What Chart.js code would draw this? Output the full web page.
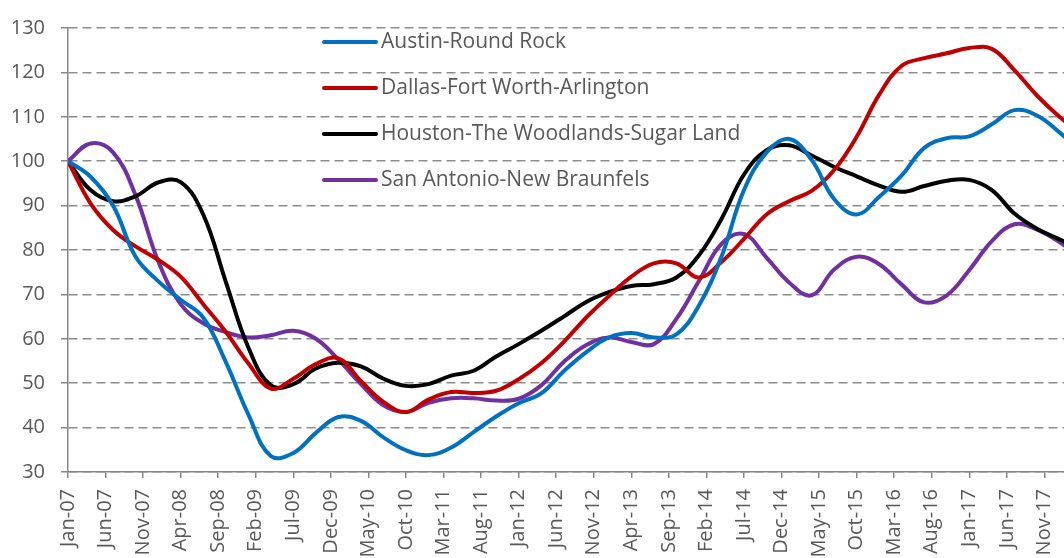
<!DOCTYPE html>
<html>
<head>
<meta charset="utf-8">
<script src="https://cdn.jsdelivr.net/npm/chart.js@4.4.1/dist/chart.umd.min.js"></script>
<style>
  html, body { margin: 0; padding: 0; background: #ffffff; overflow: hidden; width: 1064px; height: 558px; }
  #wrap { position: absolute; left: 0; top: 0; width: 1200px; height: 558px; }
</style>
</head>
<body>
<div id="wrap"><canvas id="c" width="1200" height="558"></canvas></div>
<script>
// Month index from Jan-07 (quarterly samples)
const months = [0,3,6,9,12,15,18,21,24,27,30,33,36,39,42,45,48,51,54,57,60,63,66,69,72,75,78,81,84,87,90,93,96,99,102,105,108,111,114,117,120,123,126,129,132,135];

const seriesNames = ['Austin-Round Rock', 'Dallas-Fort Worth-Arlington', 'Houston-The Woodlands-Sugar Land', 'San Antonio-New Braunfels'];

const austin = [100, 96.5, 90, 78.5, 73, 68.8, 64.8, 54.8, 43, 33.6, 34.3, 38.8, 42.4, 41.5, 37.8, 34.9, 33.8, 35.5, 39, 42.5, 45.5, 47.7, 52.7, 57, 60.3, 61.3, 60.3, 61, 67.5, 78.5, 93.5, 102, 105, 100.3, 91.5, 88, 92, 96.8, 103, 105.2, 105.6, 108.3, 111.5, 110.3, 106.5, 102];
const dallas = [100, 90.5, 84.5, 80.8, 77.8, 74, 67.8, 61.6, 54.5, 48.8, 51, 54.3, 55.6, 50.5, 45.8, 43.5, 46.3, 48, 47.8, 48.3, 50.9, 54.5, 59.3, 64.8, 69.6, 74, 77, 77, 73.8, 77.3, 82.5, 88, 91, 93.3, 98, 105.5, 115, 121.5, 123.2, 124.3, 125.5, 125.3, 120.5, 114.8, 110, 106];
const houston = [100, 93.5, 91, 92.1, 95.2, 95.3, 88, 72.9, 58.1, 49.5, 49.8, 53.3, 54.6, 53.8, 51, 49.4, 49.8, 51.7, 52.8, 56, 58.8, 61.8, 65, 68.3, 70.5, 71.9, 72.3, 73.8, 78.8, 87, 97, 102.5, 103.6, 101.3, 98.7, 96.6, 94.5, 93.1, 94.4, 95.6, 95.8, 93.5, 88.2, 84.8, 82.4, 80];
const sanAntonio = [100, 104, 102, 92.3, 77.5, 67.8, 63.5, 61.5, 60.3, 60.8, 61.8, 60, 55.3, 49.8, 45, 43.5, 45.6, 46.6, 46.6, 46.1, 46.5, 49.5, 54.8, 58.6, 60.3, 59.3, 58.8, 64.5, 73, 81.4, 83.6, 78.3, 72.7, 69.8, 75.6, 78.5, 76.8, 72.2, 68.2, 69.8, 75.5, 82, 85.8, 84.6, 81.8, 78];

// Tick labels every 5 months
const tickLabels = ['Jan-07','Jun-07','Nov-07','Apr-08','Sep-08','Feb-09','Jul-09','Dec-09','May-10','Oct-10','Mar-11','Aug-11','Jan-12','Jun-12','Nov-12','Apr-13','Sep-13','Feb-14','Jul-14','Dec-14','May-15','Oct-15','Mar-16','Aug-16','Jan-17','Jun-17','Nov-17','Apr-18'];
const yTicks = [30, 40, 50, 60, 70, 80, 90, 100, 110, 120, 130];

const colors = ['#0070C0', '#C00000', '#000000', '#7030A0'];
const allSeries = [austin, dallas, houston, sanAntonio];

const FONT = "'Open Sans', 'Noto Sans', sans-serif";
const TEXT = '#595959';
const AXIS = '#868686';

const datasets = allSeries.map((vals, i) => ({
  label: seriesNames[i],
  data: vals.map((v, k) => ({ x: months[k], y: v })),
  borderColor: colors[i],
  backgroundColor: colors[i],
  borderWidth: 4,
  pointRadius: 0,
  tension: 0.4,
  fill: false
}));

const legendPlugin = {
  id: 'insideLegend',
  afterDraw(chart) {
    const ctx = chart.ctx;
    ctx.save();
    ctx.font = '21px ' + FONT;
    ctx.textBaseline = 'middle';
    ctx.textAlign = 'left';
    chart.data.datasets.forEach((ds, i) => {
      const y = 42 + i * 46;
      ctx.strokeStyle = ds.borderColor;
      ctx.lineWidth = 4;
      ctx.lineCap = 'round';
      ctx.beginPath();
      ctx.moveTo(324, y);
      ctx.lineTo(376, y);
      ctx.stroke();
      ctx.fillStyle = TEXT;
      ctx.fillText(ds.label, 381, y);
    });
    ctx.restore();
  }
};

new Chart(document.getElementById('c'), {
  type: 'line',
  data: { datasets },
  plugins: [legendPlugin],
  options: {
    responsive: false,
    animation: false,
    devicePixelRatio: 1,
    layout: { padding: { left: 10, top: 20, right: 118, bottom: 0 } },
    plugins: { legend: { display: false }, tooltip: { enabled: false } },
    scales: {
      x: {
        type: 'linear',
        min: 0,
        max: 135,
        afterFit: (s) => { s.height = 86; },
        afterBuildTicks: (s) => { s.ticks = tickLabels.map((_, i) => ({ value: i * 5 })); },
        ticks: {
          autoSkip: false,
          minRotation: 90,
          maxRotation: 90,
          padding: 11,
          color: TEXT,
          font: { family: FONT, size: 20 },
          callback: (v) => tickLabels[Math.round(v / 5)] || ''
        },
        grid: { drawOnChartArea: false, drawTicks: true, tickLength: 6, color: AXIS, lineWidth: 1.5 },
        border: { display: true, color: AXIS, width: 1.5 }
      },
      y: {
        min: 30,
        max: 130,
        afterFit: (s) => { s.width = 58; },
        afterBuildTicks: (s) => { s.ticks = yTicks.map(v => ({ value: v })); },
        ticks: {
          padding: 16,
          color: TEXT,
          font: { family: FONT, size: 20 }
        },
        grid: { color: '#8c8c8c', lineWidth: 1.5, tickLength: 7, tickColor: AXIS, drawTicks: true },
        border: { display: true, color: AXIS, width: 1.5, dash: [9, 5] }
      }
    }
  }
});
</script>
</body>
</html>
